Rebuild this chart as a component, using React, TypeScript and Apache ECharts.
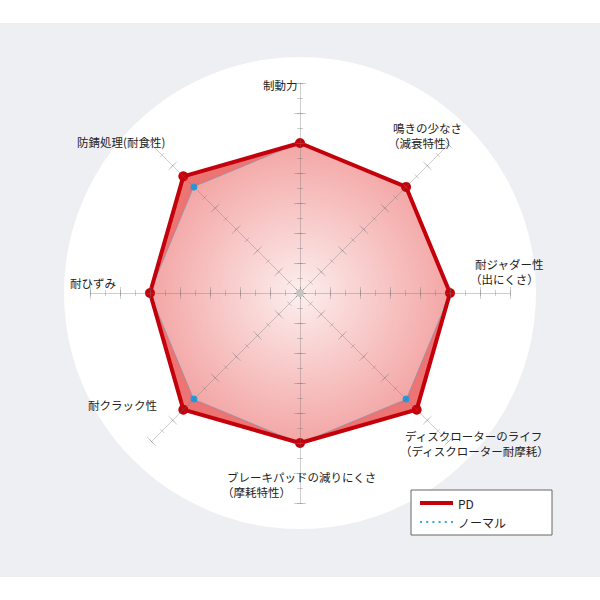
import { useEffect, useRef } from 'react';
import * as echarts from 'echarts';

// radar indicators run counterclockwise from the top in echarts
const indicators = [
  '制動力',
  '防錆処理(耐食性)',
  '耐ひずみ',
  '耐クラック性',
  'ブレーキパッドの減りにくさ(摩耗特性)',
  'ディスクローターのライフ(ディスクローター耐摩耗)',
  '耐ジャダー性(出にくさ)',
  '鳴きの少なさ(減衰特性)',
];
const pdValues = [10, 11, 10, 11, 10, 11, 10, 10];
const normalValues = [10, 10, 10, 10, 10, 10, 10, 10];
const axisMax = 14;
const seriesNames = ['PD', 'ノーマル'];

// label lines per indicator (same order as indicators)
const labelLines = [
  ['制動力'],
  ['防錆処理(耐食性)'],
  ['耐ひずみ'],
  ['耐クラック性'],
  ['ブレーキパッドの減りにくさ', '（摩耗特性）'],
  ['ディスクローターのライフ', '（ディスクローター耐摩耗）'],
  ['耐ジャダー性', '（出にくさ）'],
  ['鳴きの少なさ', '（減衰特性）'],
];
const labelAnchors: [number, number][] = [
  [263, 85],
  [77, 142],
  [70, 283],
  [88, 405],
  [227, 477],
  [405, 436],
  [475, 264],
  [393, 128],
];

const FONT = '"Noto Sans CJK JP", "Noto Sans", sans-serif';
const RED = '#c4000b';
const TICK = 'rgba(110,110,110,0.34)';
const CENTER: [number, number] = [300, 293];
const DOTS =
  'path://M0,0h2v2h-2zM6,0h2v2h-2zM12,0h2v2h-2zM18,0h2v2h-2zM24,0h2v2h-2zM30,0h2v2h-2z';

export default function App() {
  const ref = useRef<HTMLDivElement>(null);

  useEffect(() => {
    document.body.style.margin = '0';
    const chart = echarts.init(ref.current!, undefined, { renderer: 'svg' });

    const baseRadar = {
      center: CENTER,
      radius: 210,
      startAngle: 90,
      shape: 'polygon',
      z: 3,
      indicator: indicators.map((name) => ({ name, min: 0, max: axisMax })),
      axisName: { show: false },
      axisLabel: { show: false },
      splitLine: { show: false },
      splitArea: { show: false },
    };
    const tickRadar = (split: number, len: number, line: boolean) => ({
      ...baseRadar,
      splitNumber: split,
      axisLine: { show: line, lineStyle: { color: TICK, width: 1 } },
      axisTick: { show: true, length: len, lineStyle: { color: TICK, width: 1 } },
    });

    const labels: any[] = [];
    labelLines.forEach((lines, i) => {
      const [x, y] = labelAnchors[i];
      lines.forEach((t, j) => {
        labels.push({
          type: 'text',
          x: j === 0 ? x : x - 5,
          y: y + j * 15,
          z: 10,
          silent: true,
          style: {
            text: t,
            fill: '#222',
            fontSize: 11.5,
            lineHeight: 13,
            fontFamily: FONT,
            verticalAlign: 'middle',
            align: 'left',
          },
        });
      });
    });

    chart.setOption({
      animation: false,
      graphic: [
        { type: 'rect', z: -10, silent: true, shape: { x: 0, y: 23, width: 600, height: 554 }, style: { fill: '#eeeff2' } },
        { type: 'circle', z: -9, silent: true, shape: { cx: CENTER[0], cy: CENTER[1], r: 236 }, style: { fill: '#ffffff' } },
        { type: 'circle', z: 20, silent: true, shape: { cx: CENTER[0], cy: CENTER[1], r: 4 }, style: { fill: '#c4c4c4' } },
        ...labels,
      ],
      legend: {
        left: 411,
        top: 490,
        orient: 'vertical',
        backgroundColor: '#fff',
        borderColor: '#666',
        borderWidth: 1,
        borderRadius: 0,
        padding: [7, 46, 7, 9],
        itemGap: 7,
        itemWidth: 33,
        itemHeight: 4,
        selectedMode: false,
        textStyle: { fontSize: 12, color: '#222', fontFamily: FONT },
        data: [
          { name: seriesNames[0], icon: 'rect', itemStyle: { color: RED } },
          { name: seriesNames[1], icon: DOTS, itemStyle: { color: '#35ace2' } },
        ],
      },
      radar: [
        tickRadar(7, 6, true),
        tickRadar(7, -6, false),
        tickRadar(14, 3, false),
        tickRadar(14, -3, false),
      ],
      series: [
        {
          type: 'radar',
          radarIndex: 0,
          z: 2,
          silent: true,
          emphasis: { disabled: true },
          data: [
            {
              name: seriesNames[0],
              value: pdValues,
              symbol: 'none',
              lineStyle: { opacity: 0 },
              areaStyle: { color: '#ec7472', opacity: 1 },
            },
            {
              name: seriesNames[1],
              value: normalValues,
              symbol: 'circle',
              symbolSize: 7,
              itemStyle: { color: '#1d9de6' },
              lineStyle: { type: 'dotted', width: 1.5, color: '#7f98b4' },
              areaStyle: {
                opacity: 1,
                color: {
                  type: 'radial',
                  x: 0.5,
                  y: 0.5,
                  r: 0.5,
                  colorStops: [
                    { offset: 0, color: 'rgba(255,255,255,0.88)' },
                    { offset: 1, color: 'rgba(255,255,255,0.36)' },
                  ],
                },
              },
            },
            {
              name: seriesNames[0],
              value: pdValues,
              symbol: 'circle',
              symbolSize: 10,
              itemStyle: { color: RED },
              lineStyle: { width: 4, color: RED },
            },
          ],
        },
      ],
    } as echarts.EChartsOption);

    return () => {
      chart.dispose();
    };
  }, []);

  return <div ref={ref} style={{ width: 600, height: 600 }} />;
}
